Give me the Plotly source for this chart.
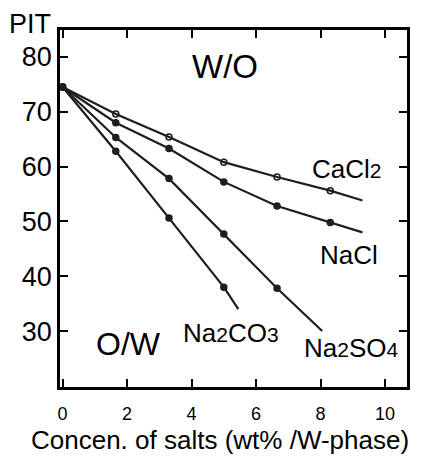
import plotly.graph_objects as go

# x = salt concentration (wt% / W-phase), y = PIT; last point of each list is the end of the fitted line
cacl2_x = [0, 1.65, 3.3, 5.0, 6.65, 8.3, 9.3]
cacl2_y = [74.5, 69.6, 65.4, 60.8, 58.1, 55.6, 53.8]
nacl_x = [0, 1.65, 3.3, 5.0, 6.65, 8.3, 9.3]
nacl_y = [74.5, 68.0, 63.3, 57.2, 52.8, 49.8, 48.0]
na2so4_x = [0, 1.65, 3.3, 5.0, 6.65, 8.05]
na2so4_y = [74.5, 65.3, 57.8, 47.7, 37.8, 30.0]
na2co3_x = [0, 1.65, 3.3, 5.0, 5.45]
na2co3_y = [74.5, 62.8, 50.6, 38.0, 34.0]

x_ticks = [0, 2, 4, 6, 8, 10]
y_ticks = [30, 40, 50, 60, 70, 80]

FONT = "Liberation Sans, Arial, sans-serif"
LINE = "#1e1e1e"

fig = go.Figure()
series = [
    (cacl2_x, cacl2_y, "circle-open"),
    (nacl_x, nacl_y, "circle"),
    (na2so4_x, na2so4_y, "circle"),
    (na2co3_x, na2co3_y, "circle"),
]
for xs, ys, sym in series:
    fig.add_trace(go.Scatter(x=xs, y=ys, mode="lines",
                             line=dict(color=LINE, width=2.2), showlegend=False))
    fig.add_trace(go.Scatter(x=xs[:-1], y=ys[:-1], mode="markers",
                             marker=dict(symbol=sym, size=6, color=LINE,
                                         line=dict(color=LINE, width=1.5)),
                             showlegend=False))

axis_common = dict(showgrid=False, zeroline=False, showline=True, linecolor="black",
                   linewidth=2.5, mirror="ticks", ticks="inside", ticklen=8,
                   tickwidth=2, tickcolor="black")

fig.update_xaxes(range=[-0.08, 10.68], tickvals=x_ticks, ticktext=[str(v) for v in x_ticks],
                 ticklabelstandoff=9,
                 tickfont=dict(family=FONT, size=18, color="black"), **axis_common)
fig.update_yaxes(range=[19.8, 84.9], tickvals=y_ticks, ticktext=[str(v) for v in y_ticks],
                 tickfont=dict(family=FONT, size=27, color="black"), **axis_common)

def sm(d):
    return '<span style="font-size:21px">' + d + '</span>'

labels = [
    ("W/O", 5.04, 78.3, 33),
    ("O/W", 2.05, 27.6, 32),
    ("CaCl" + sm("2"), 8.79, 59.6, 26),
    ("NaCl", 8.88, 43.8, 26),
    ("Na" + sm("2") + "CO" + sm("3"), 5.22, 29.6, 26),
    ("Na" + sm("2") + "SO" + sm("4"), 8.95, 26.9, 26),
]
for txt, x, y, s in labels:
    fig.add_annotation(text=txt, x=x, y=y, xref="x", yref="y", showarrow=False,
                       font=dict(family=FONT, size=s, color="black"))

fig.add_annotation(text="PIT", x=-0.087, y=1.017, xref="paper", yref="paper", showarrow=False,
                   xanchor="center", yanchor="middle",
                   font=dict(family=FONT, size=27, color="black"))
fig.add_annotation(text="Concen. of salts (wt% /W-phase)", xref="paper", yref="paper",
                   x=0.461, y=-0.148, showarrow=False, yanchor="middle",
                   font=dict(family=FONT, size=26, color="black"))

fig.update_layout(width=430, height=460, margin=dict(l=60, r=23, t=30, b=73),
                  paper_bgcolor="white", plot_bgcolor="white",
                  font=dict(family=FONT, color="black"))

fig.write_html("out.html")
